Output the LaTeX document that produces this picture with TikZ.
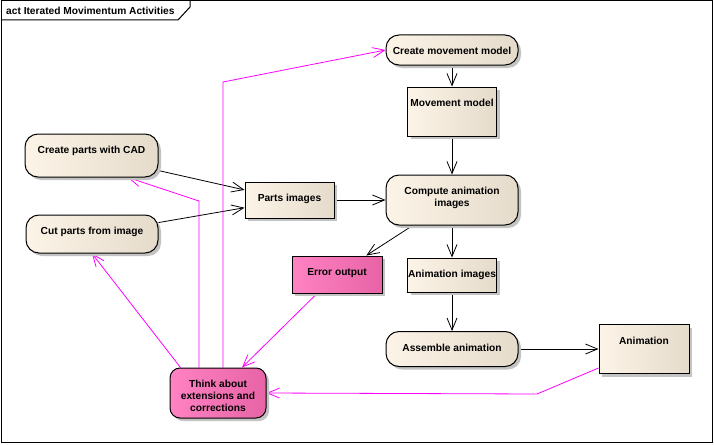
\documentclass[tikz,border=0pt]{standalone}
\usepackage{fontspec}
\setmainfont{Liberation Sans}
\usetikzlibrary{arrows.meta,shadows}
\pgfdeclarelayer{bg}
\pgfsetlayers{bg,main}
\definecolor{actleft}{RGB}{252,244,231}
\definecolor{actright}{RGB}{229,219,203}
\definecolor{errleft}{RGB}{255,130,195}
\definecolor{errright}{RGB}{231,100,166}
\definecolor{fixline}{RGB}{255,0,255}
\definecolor{shadowgrey}{RGB}{195,195,195}
\tikzset{
    every node/.style={font=\bfseries\fontsize{10.2}{12}\selectfont}
}
\tikzset{
    act/.style={draw, line width=1pt, rounded corners=13pt, left color=actleft, right color=actright,
        drop shadow={shadow xshift=3pt, shadow yshift=-3pt, fill=shadowgrey, opacity=1}},
    obj/.style={act, sharp corners},
    hot/.style={left color=errleft, right color=errright},
    toptext/.style={anchor=north, inner sep=0pt, align=center, label distance=-12.5pt},
    flow/.style={line width=0.8pt, -{Straight Barb[length=12pt, width=10pt]}},
    fix/.style={flow, draw=fixline}
}
\begin{document}
\begin{tikzpicture}
        \useasboundingbox (0pt, 0pt) rectangle (714pt, -444pt);
        \draw [line width=1pt] (1pt, -1pt) rectangle (712pt, -442pt);
        \draw [line width=1pt] (1pt, -20pt) -- (178pt, -20pt) -- (190pt, -7pt) -- (190pt, -1pt);
        \node (title) [anchor=west, inner sep=0pt] at (6pt, -10.5pt) {act Iterated Movimentum Activities};
        \node (cad) [act, minimum width=133pt, minimum height=43pt, label={[toptext]north:Create parts with CAD}] at (91.5pt, -155.5pt) {};
        \node (cut) [act, minimum width=132pt, minimum height=38pt, label={[toptext]north:Cut parts from image}] at (92pt, -234pt) {};
        \node (parts) [obj, minimum width=89pt, minimum height=36pt, label={[toptext]north:Parts images}] at (289.5pt, -200pt) {};
        \node (cmm) [act, minimum width=132pt, minimum height=30pt, label={[toptext]north:Create movement model}] at (452pt, -50pt) {};
        \node (mm) [obj, minimum width=89pt, minimum height=49pt, label={[toptext]north:Movement model}] at (452pt, -111.5pt) {};
        \node (comp) [act, minimum width=132pt, minimum height=50pt, label={[toptext]north:{Compute animation\\images}}] at (452pt, -200pt) {};
        \node (err) [obj, hot, minimum width=90pt, minimum height=37pt, label={[toptext]north:Error output}] at (337pt, -274.5pt) {};
        \node (aimg) [obj, minimum width=89pt, minimum height=34pt, label={[toptext]north:Animation images}] at (452pt, -275pt) {};
        \node (asm) [act, minimum width=132pt, minimum height=35pt, label={[toptext]north:Assemble animation}] at (452pt, -349pt) {};
        \node (anim) [obj, minimum width=90pt, minimum height=49pt, label={[toptext]north:Animation}] at (644pt, -349pt) {};
        \node (think) [act, hot, rounded corners=10pt, minimum width=96pt, minimum height=50pt, label={[toptext]north:{Think about\\extensions and\\corrections}}] at (218pt, -393pt) {};
        \coordinate (k1) at (199pt, -201pt);
        \coordinate (k2) at (223pt, -82pt);
        \coordinate (k3) at (537pt, -394pt);
        \begin{pgfonlayer}{bg}
                \fill [white] (0pt, 0pt) rectangle (714pt, -444pt);
                \draw (cad) edge [flow] (parts);
                \draw (cut) edge [flow] (parts);
                \draw (parts) edge [flow] (comp);
                \draw (cmm) edge [flow] (mm);
                \draw (mm) edge [flow] (comp);
                \draw (comp) edge [flow] (err);
                \draw (comp) edge [flow] (aimg);
                \draw (aimg) edge [flow] (asm);
                \draw (asm) edge [flow] (anim);
                \draw [fix] (k1 |- think.north) -- (k1) -- ([xshift=36.5pt]cad.south);
                \draw [fix] (k2 |- think.north) -- (k2) -- (cmm.west);
                \draw [fix] ([xshift=11pt]think.north west) -- (cut.south);
                \draw [fix] ([xshift=-20pt]err.south) -- ([xshift=24pt]think.north);
                \draw [fix] ([yshift=6pt]anim.south west) -- (k3) -- (think.east);
        \end{pgfonlayer}
\end{tikzpicture}
\end{document}
